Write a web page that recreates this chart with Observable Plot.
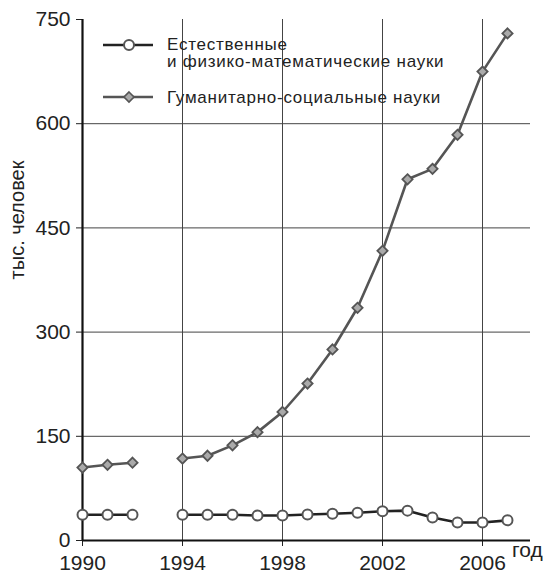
<!DOCTYPE html>
<html>
<head>
<meta charset="utf-8">
<script src="https://cdn.jsdelivr.net/npm/d3@7"></script>
<script src="https://cdn.jsdelivr.net/npm/@observablehq/plot@0.6"></script>
<style>
  body { margin: 0; background: #fff; }
  #wrap { position: relative; width: 543px; height: 574px; font-family: "Liberation Sans", Arial, sans-serif; color: #222; }
</style>
</head>
<body>
<div id="wrap">
  <div id="chart"></div>
</div>
<script>
const years = [1990, 1991, 1992, 1993, 1994, 1995, 1996, 1997, 1998, 1999, 2000, 2001, 2002, 2003, 2004, 2005, 2006, 2007];
const natural = [37, 37, 37, null, 37, 37, 37, 36, 36, 37.5, 38.5, 40, 42, 43, 33, 26, 26, 29];
const humanities = [105, 109, 112, null, 118, 122, 137, 156, 185, 226, 275, 335, 417, 520, 535, 584, 675, 730];
const seriesNames = [["Естественные", "и физико-математические науки"], ["Гуманитарно-социальные науки"]];
const yTicks = [0, 150, 300, 450, 600, 750];
const xTicks = [1990, 1994, 1998, 2002, 2006];
const yLabel = "тыс. человек";
const xLabel = "год";

const nat = years.map((y, i) => ({year: y, value: natural[i]}));
const hum = years.map((y, i) => ({year: y, value: humanities[i]}));

const FONT = "'Liberation Sans', Arial, sans-serif";

const plot = Plot.plot({
  width: 543,
  height: 574,
  marginLeft: 82,
  marginRight: 13,
  marginTop: 19,
  marginBottom: 34,
  style: {fontFamily: FONT, color: "#222", background: "#fff"},
  x: {domain: [1990, 2007.92]},
  y: {domain: [0, 750]},
  marks: [
    Plot.ruleX(xTicks.filter(d => d !== 1990), {y1: 0, y2: 750, stroke: "#444", strokeWidth: 1}),
    Plot.ruleY(yTicks.filter(d => d !== 0 && d !== 750), {stroke: "#444", strokeWidth: 1}),
    Plot.axisY({ticks: yTicks, tickSize: 6, tickPadding: 6, fontSize: 21, label: null, tickFormat: d => String(d), stroke: "#222", fill: "#222"}),
    Plot.axisX({ticks: xTicks, tickSize: 6, tickPadding: 9, fontSize: 21, label: null, tickFormat: d => String(d), stroke: "#222", fill: "#222"}),
    Plot.ruleX([1990], {y1: 0, y2: 750, stroke: "#111", strokeWidth: 2.2}),
    Plot.ruleY([0], {stroke: "#111", strokeWidth: 2.2}),
    Plot.line(hum, {x: "year", y: "value", stroke: "#555", strokeWidth: 2.6}),
    Plot.dot(hum, {x: "year", y: "value", symbol: "diamond2", r: 4.6, fill: "#aaa", stroke: "#555", strokeWidth: 1.8}),
    Plot.line(nat, {x: "year", y: "value", stroke: "#222", strokeWidth: 2.6}),
    Plot.dot(nat, {x: "year", y: "value", symbol: "circle", r: 5, fill: "#fff", stroke: "#555", strokeWidth: 2})
  ]
});
document.getElementById("chart").appendChild(plot);

const svg = d3.select(plot);
svg.selectAll("g[aria-label$='tick label'] text, g[aria-label$='tick label']")
  .style("font-size", "21px")
  .style("font-family", FONT);

// y axis title
svg.append("text")
  .attr("transform", "translate(23.5,220) rotate(-90)")
  .attr("text-anchor", "middle")
  .style("font-size", "20px")
  .style("font-family", FONT)
  .attr("fill", "#222")
  .text(yLabel);

// x axis title
svg.append("text")
  .attr("x", 512)
  .attr("y", 557)
  .attr("text-anchor", "start")
  .style("font-size", "21px")
  .style("font-family", FONT)
  .attr("fill", "#222")
  .text(xLabel);

// legend
const lg = svg.append("g")
  .attr("text-anchor", "start")
  .style("font-family", FONT)
  .style("font-size", "17px")
  .style("letter-spacing", "0.75px")
  .attr("fill", "#222");
const rowY = [45, 97];
const textBase = [[50, 66.5], [103]];
lg.append("line").attr("x1", 103).attr("x2", 153).attr("y1", rowY[0]).attr("y2", rowY[0]).attr("stroke", "#222").attr("stroke-width", 2.6);
lg.append("circle").attr("cx", 129).attr("cy", rowY[0]).attr("r", 5).attr("fill", "#fff").attr("stroke", "#555").attr("stroke-width", 2);
lg.append("line").attr("x1", 103).attr("x2", 153).attr("y1", rowY[1]).attr("y2", rowY[1]).attr("stroke", "#555").attr("stroke-width", 2.6);
lg.append("path").attr("d", `M129,${rowY[1]-5} L134,${rowY[1]} L129,${rowY[1]+5} L124,${rowY[1]} Z`).attr("fill", "#aaa").attr("stroke", "#555").attr("stroke-width", 1.6);
seriesNames.forEach((lines, i) => {
  lines.forEach((t, j) => {
    lg.append("text").attr("x", 167).attr("y", textBase[i][j]).attr("text-anchor", "start").text(t);
  });
});
</script>
</body>
</html>
